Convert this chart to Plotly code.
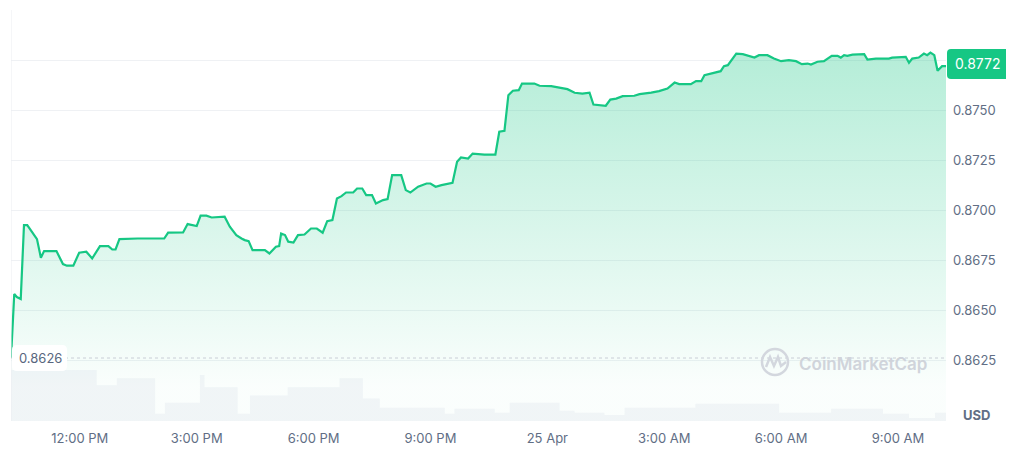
import pandas as pd
import plotly.graph_objects as go

# ---------------- data ----------------
start_time = "2025-04-24 10:14:00"

price_minutes = [0, 5, 9, 15, 20, 25, 32, 40, 46, 51, 70, 80, 86, 96, 105, 116, 125, 137, 150, 156,
                 161, 167, 195, 236, 242, 265, 272, 286, 292, 301, 309, 329, 337, 347, 355, 360, 366,
                 372, 391, 398, 408, 413, 416, 422, 427, 435, 442, 452, 462, 471, 480, 487, 495, 502,
                 509, 516, 527, 533, 541, 547, 556, 562, 573, 580, 587, 601, 608, 615, 627, 640, 646,
                 654, 663, 673, 680, 687, 693, 704, 711, 729, 746, 752, 760, 766, 773, 782, 787, 806,
                 814, 832, 845, 857, 868, 880, 891, 897, 916, 923, 932, 942, 960, 968, 986, 998, 1011,
                 1022, 1029, 1047, 1055, 1063, 1068, 1078, 1086, 1093, 1098, 1104, 1117, 1127, 1145,
                 1152, 1165, 1175, 1186, 1198, 1209, 1218, 1227, 1232, 1242, 1252, 1264, 1273, 1278,
                 1283, 1288, 1296, 1314, 1319, 1332, 1352, 1357, 1378, 1383, 1388, 1398, 1406, 1411,
                 1416, 1422, 1427, 1434, 1440]

price_values = [0.86260, 0.86580, 0.86565, 0.86555, 0.86925, 0.86925, 0.86892, 0.86855, 0.86762,
                0.86795, 0.86795, 0.86730, 0.86722, 0.86722, 0.86787, 0.86792, 0.86758, 0.86820,
                0.86820, 0.86803, 0.86803, 0.86855, 0.86858, 0.86858, 0.86887, 0.86888, 0.86930,
                0.86920, 0.86972, 0.86972, 0.86963, 0.86967, 0.86917, 0.86875, 0.86858, 0.86850,
                0.86845, 0.86800, 0.86800, 0.86783, 0.86817, 0.86820, 0.86883, 0.86875, 0.86842,
                0.86838, 0.86875, 0.86878, 0.86908, 0.86908, 0.86887, 0.86945, 0.86950, 0.87058,
                0.87070, 0.87088, 0.87088, 0.87108, 0.87108, 0.87075, 0.87075, 0.87033, 0.87050,
                0.87055, 0.87175, 0.87175, 0.87100, 0.87088, 0.87117, 0.87133, 0.87133, 0.87117,
                0.87125, 0.87133, 0.87137, 0.87242, 0.87263, 0.87258, 0.87283, 0.87278, 0.87278,
                0.87392, 0.87397, 0.87575, 0.87597, 0.87600, 0.87633, 0.87633, 0.87622, 0.87620,
                0.87613, 0.87605, 0.87587, 0.87583, 0.87587, 0.87528, 0.87522, 0.87553, 0.87558,
                0.87570, 0.87572, 0.87580, 0.87588, 0.87595, 0.87608, 0.87638, 0.87630, 0.87630,
                0.87645, 0.87645, 0.87675, 0.87683, 0.87692, 0.87695, 0.87720, 0.87725, 0.87783,
                0.87780, 0.87763, 0.87775, 0.87775, 0.87758, 0.87745, 0.87750, 0.87745, 0.87730,
                0.87733, 0.87728, 0.87742, 0.87745, 0.87772, 0.87772, 0.87763, 0.87775, 0.87772,
                0.87778, 0.87780, 0.87753, 0.87758, 0.87758, 0.87763, 0.87767, 0.87737, 0.87758,
                0.87763, 0.87783, 0.87775, 0.87788, 0.87775, 0.87697, 0.87720, 0.87720]

volume_minutes = [0, 132, 163, 222, 237, 291, 298, 349, 368, 426, 506, 542, 568, 668, 683, 745,
                  768, 845, 868, 914, 945, 983, 1054, 1183, 1263, 1343, 1383, 1423, 1440]
volume_values = [50, 35, 42, 7, 18, 45, 33, 7, 25, 33, 42, 22, 13, 7, 12, 8,
                 18, 10, 8, 6, 13, 13, 17, 8, 12, 7, 3, 8, 8]

price_ticks = [0.8625, 0.8650, 0.8675, 0.8700, 0.8725, 0.8750, 0.8775, 0.8800]
price_tick_labels = ["0.8625", "0.8650", "0.8675", "0.8700", "0.8725", "0.8750", "", ""]

time_ticks = ["2025-04-24 12:00", "2025-04-24 15:00", "2025-04-24 18:00", "2025-04-24 21:00",
              "2025-04-25 00:00", "2025-04-25 03:00", "2025-04-25 06:00", "2025-04-25 09:00"]
time_tick_labels = ["12:00 PM", "3:00 PM", "6:00 PM", "9:00 PM", "25 Apr", "3:00 AM", "6:00 AM", "9:00 AM"]

open_price = 0.8626
last_price = 0.8772

# ---------------- figure ----------------
t0 = pd.Timestamp(start_time)
price_times = t0 + pd.to_timedelta(price_minutes, unit="m")
volume_times = t0 + pd.to_timedelta(volume_minutes, unit="m")
t_end = price_times[-1]

GREEN = "#16c784"
TICK = "#616e85"
GRID = "#eff1f4"
FONT = "Inter"

# page body adds an 8px offset; figure is sized so the plot area lands where intended
W, H = 1006, 446
L, R, T, B = 3, 68, 2, 33
pw, ph = W - L - R, H - T - B   # 935 x 411


def px(x):
    """screen x (page px) -> paper x"""
    return (x - 8 - L) / pw


def py(y):
    """screen y (page px) -> paper y"""
    return (H - B - (y - 8)) / ph


def rounded_rect(x0, x1, y0, y1, r):
    rx, ry = r / pw, r / ph
    a, b = px(x0), px(x1)
    top, bot = py(y0), py(y1)
    return (f"M {a+rx},{top} L {b-rx},{top} Q {b},{top} {b},{top-ry} "
            f"L {b},{bot+ry} Q {b},{bot} {b-rx},{bot} "
            f"L {a+rx},{bot} Q {a},{bot} {a},{bot+ry} "
            f"L {a},{top-ry} Q {a},{top} {a+rx},{top} Z")


fig = go.Figure()

fig.add_trace(go.Scatter(
    x=price_times, y=price_values, mode="lines",
    line=dict(color=GREEN, width=2.2),
    fill="tozeroy",
    fillgradient=dict(type="vertical", start=0.8612, stop=0.8779,
                      colorscale=[[0, "rgba(22,199,132,0.02)"], [1, "rgba(22,199,132,0.32)"]]),
    hoverinfo="skip", showlegend=False,
))

fig.add_trace(go.Scatter(
    x=volume_times, y=volume_values, mode="lines", yaxis="y2",
    line=dict(width=0, shape="hv", color="rgba(207,214,228,0.22)"),
    fill="tozeroy", fillcolor="rgba(207,214,228,0.22)",
    hoverinfo="skip", showlegend=False,
))

logo_pts = [(766, 367), (770, 357), (774, 366), (778, 357), (781, 366), (786, 362)]
logo_path = "M " + " L ".join(f"{px(x):.4f},{py(y):.4f}" for x, y in logo_pts)

fig.update_layout(
    width=W, height=H,
    margin=dict(l=L, r=R, t=T, b=B, autoexpand=False),
    paper_bgcolor="white", plot_bgcolor="white",
    font=dict(family=FONT, size=13, color=TICK),
    xaxis=dict(
        type="date", range=[t0, t_end],
        tickvals=time_ticks, ticktext=time_tick_labels,
        showgrid=False, zeroline=False, showline=False, ticks="",
        ticklabelstandoff=8,
        tickfont=dict(size=13, color=TICK),
    ),
    yaxis=dict(
        side="right", range=[0.85945, 0.88001],
        tickvals=price_ticks, ticktext=price_tick_labels,
        showgrid=True, gridcolor=GRID, gridwidth=1,
        zeroline=False, showline=False, ticks="",
        ticklabelstandoff=6,
        tickfont=dict(size=13, color=TICK),
    ),
    yaxis2=dict(overlaying="y", range=[0, 403], visible=False, showgrid=False),
    shapes=[
        dict(type="line", xref="x", yref="paper", x0=t0, x1=t0, y0=0, y1=1,
             line=dict(color="#eceef1", width=1)),
        dict(type="line", xref="x", yref="y", x0=t0, x1=t_end, y0=open_price, y1=open_price,
             line=dict(color="#c9ced6", width=1, dash="dot")),
        dict(type="path", xref="paper", yref="paper", path=rounded_rect(12, 67, 345, 371, 5),
             fillcolor="white", line=dict(width=0)),
        dict(type="path", xref="paper", yref="paper", path=rounded_rect(947, 1010, 49, 79, 4),
             fillcolor=GREEN, line=dict(width=0)),
        dict(type="circle", xref="paper", yref="paper",
             x0=px(762), x1=px(788), y0=py(375), y1=py(349),
             line=dict(color="#d3d7de", width=2.5)),
        dict(type="path", xref="paper", yref="paper", path=logo_path,
             line=dict(color="#d3d7de", width=2.5)),
    ],
    annotations=[
        dict(xref="paper", yref="paper", x=px(978.5), y=py(64), xanchor="center", yanchor="middle",
             text=str(last_price), showarrow=False,
             font=dict(color="white", size=14, family=FONT)),
        dict(xref="paper", yref="paper", x=px(17), y=py(358), xanchor="left", yanchor="middle",
             text=str(open_price), showarrow=False,
             font=dict(color="#58667e", size=13, family=FONT)),
        dict(xref="paper", yref="paper", x=px(797), y=py(364), xanchor="left", yanchor="middle",
             text="CoinMarketCap", showarrow=False,
             font=dict(color="#d0d4db", size=17, family=FONT, weight=600)),
        dict(xref="paper", yref="paper", x=px(961), y=py(415), xanchor="left", yanchor="middle",
             text="<b>USD</b>", showarrow=False,
             font=dict(color="#616e85", size=13, family=FONT)),
    ],
)

fig.write_html("out.html")
